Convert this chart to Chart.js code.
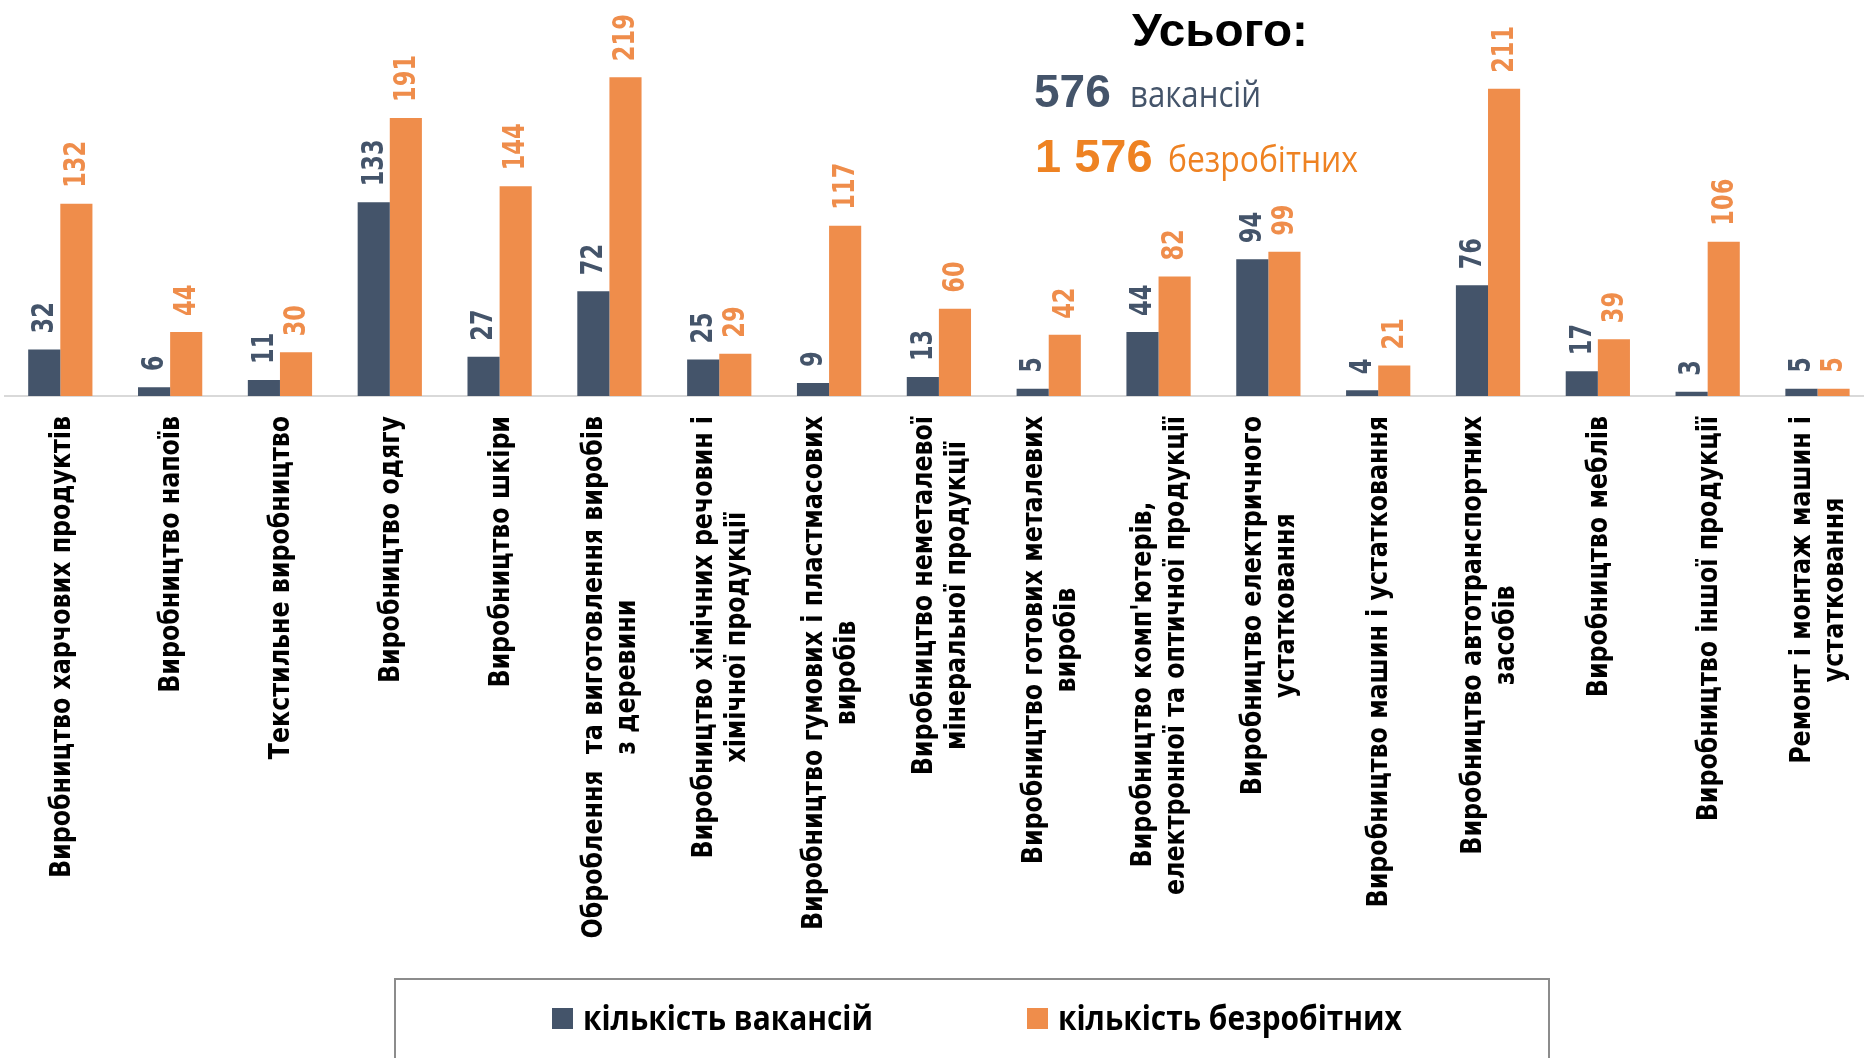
<!DOCTYPE html>
<html>
<head>
<meta charset="utf-8">
<script src="https://cdn.jsdelivr.net/npm/chart.js@4.4.1/dist/chart.umd.min.js"></script>
<style>
html,body{margin:0;padding:0;background:#fff;overflow:hidden;width:1864px;height:1058px}
#wrap{position:absolute;left:0;top:0;width:1874px;height:1058px}
</style>
</head>
<body>
<div id="wrap"><canvas id="c" width="1874" height="1058"></canvas></div>
<script>
// ---------- DATA ----------
const categories = [
  ["Виробництво харчових продуктів"],
  ["Виробництво напоїв"],
  ["Текстильне виробництво"],
  ["Виробництво одягу"],
  ["Виробництво шкіри"],
  ["Оброблення  та виготовлення виробів", "з деревини"],
  ["Виробництво хімічних речовин і", "хімічної продукції"],
  ["Виробництво гумових і пластмасових", "виробів"],
  ["Виробництво неметалевої", "мінеральної продукції"],
  ["Виробництво готових металевих", "виробів"],
  ["Виробництво комп'ютерів,       ", "електронної та оптичної продукції"],
  ["Виробництво електричного", "устатковання"],
  ["Виробництво машин і устатковання"],
  ["Виробництво автотранспортних", "засобів"],
  ["Виробництво меблів"],
  ["Виробництво іншої продукції"],
  ["Ремонт і монтаж машин і", "устатковання"]
];
const vacancies  = [32, 6, 11, 133, 27, 72, 25, 9, 13, 5, 44, 94, 4, 76, 17, 3, 5];
const unemployed = [132, 44, 30, 191, 144, 219, 29, 117, 60, 42, 82, 99, 21, 211, 39, 106, 5];
const seriesNames = ["кількість вакансій", "кількість безробітних"];
const totalTitle = "Усього:";
const totalVacancies = "576";
const totalVacanciesWord = "вакансій";
const totalUnemployed = "1 576";
const totalUnemployedWord = "безробітних";
const yMax = 272;

// ---------- STYLE ----------
const BLUE = '#44546A';
const ORANGE = '#EF8D4B';
const ORANGE_TXT = '#EE8222';

function scaledText(ctx, text, x, y, sx, align) {
  ctx.save();
  ctx.translate(x, y);
  ctx.scale(sx, 1);
  ctx.textAlign = align || 'left';
  ctx.fillText(text, 0, 0);
  ctx.restore();
}

const valueLabels = {
  id: 'valueLabels',
  afterDatasetsDraw(chart) {
    const ctx = chart.ctx;
    chart.data.datasets.forEach((ds, di) => {
      const meta = chart.getDatasetMeta(di);
      meta.data.forEach((bar, i) => {
        ctx.save();
        ctx.translate(bar.x, bar.y - 16);
        ctx.rotate(-Math.PI / 2);
        ctx.scale(0.75, 1);
        ctx.font = 'bold 30px "DejaVu Sans"';
        ctx.fillStyle = ds.backgroundColor;
        ctx.textAlign = 'left';
        ctx.textBaseline = 'middle';
        ctx.fillText(String(ds.data[i]), 0, 1);
        ctx.restore();
      });
    });
  }
};

const categoryLabels = {
  id: 'categoryLabels',
  afterDraw(chart) {
    const ctx = chart.ctx, xs = chart.scales.x;
    ctx.save();
    ctx.font = 'bold 28px "DejaVu Sans"';
    const k = 462 / ctx.measureText(categories[0][0]).width;
    const top = chart.chartArea.bottom + 20;
    const lh = 33;
    chart.data.labels.forEach((lines, i) => {
      const x = xs.getPixelForTick(i) + 2;
      const arr = Array.isArray(lines) ? lines : [lines];
      const W = Math.max(...arr.map(l => ctx.measureText(l).width)) * k;
      arr.forEach((l, j) => {
        ctx.save();
        ctx.translate(x + (j - (arr.length - 1) / 2) * lh, top + W / 2);
        ctx.rotate(-Math.PI / 2);
        ctx.scale(k, 1);
        ctx.textAlign = 'center';
        ctx.textBaseline = 'middle';
        ctx.fillStyle = '#000';
        ctx.fillText(l, 0, 0);
        ctx.restore();
      });
    });
    ctx.restore();
  }
};

const legendBox = {
  id: 'legendBox',
  afterDraw(chart) {
    const ctx = chart.ctx;
    ctx.save();
    ctx.strokeStyle = '#8C8C8C';
    ctx.lineWidth = 2;
    ctx.strokeRect(395, 979, 1154, 120);
    ctx.font = 'bold 34px "Open Sans"';
    const sx = 290 / ctx.measureText(chart.data.datasets[0].label).width;
    const xs = [552, 1027];
    chart.data.datasets.forEach((ds, i) => {
      ctx.fillStyle = ds.backgroundColor;
      ctx.fillRect(xs[i], 1008, 21, 21);
      ctx.fillStyle = '#000';
      ctx.textBaseline = 'alphabetic';
      scaledText(ctx, ds.label, xs[i] + 31, 1030, sx);
    });
    ctx.restore();
  }
};

const totals = {
  id: 'totals',
  afterDraw(chart) {
    const ctx = chart.ctx;
    ctx.save();
    ctx.textBaseline = 'alphabetic';
    ctx.fillStyle = '#000';
    ctx.font = 'bold 46px "Liberation Sans", Arial';
    let sx = 176 / ctx.measureText(totalTitle).width;
    scaledText(ctx, totalTitle, 1132, 46, sx);

    ctx.fillStyle = BLUE;
    ctx.font = 'bold 46px "Liberation Sans", Arial';
    ctx.fillText(totalVacancies, 1034, 107);
    ctx.font = '37px "Open Sans"';
    sx = 131 / ctx.measureText(totalVacanciesWord).width;
    scaledText(ctx, totalVacanciesWord, 1130, 107, sx);

    ctx.fillStyle = ORANGE_TXT;
    ctx.font = 'bold 47px "Liberation Sans", Arial';
    ctx.fillText(totalUnemployed, 1035, 172);
    ctx.font = '37px "Open Sans"';
    sx = 190 / ctx.measureText(totalUnemployedWord).width;
    scaledText(ctx, totalUnemployedWord, 1168, 172, sx);
    ctx.restore();
  }
};

new Chart(document.getElementById('c'), {
  type: 'bar',
  data: {
    labels: categories,
    datasets: [
      { label: seriesNames[0], data: vacancies, backgroundColor: BLUE },
      { label: seriesNames[1], data: unemployed, backgroundColor: ORANGE }
    ]
  },
  options: {
    responsive: false,
    animation: false,
    devicePixelRatio: 1,
    layout: { padding: { left: 5.4, right: 1.6, top: 0, bottom: 0 } },
    datasets: { bar: { categoryPercentage: 0.585, barPercentage: 1.0, borderWidth: 0 } },
    plugins: { legend: { display: false }, tooltip: { enabled: false } },
    scales: {
      x: {
        grid: { display: false, drawTicks: false },
        border: { display: true, color: '#D9D9D9', width: 2 },
        ticks: { display: false },
        afterFit: (s) => { s.height = 662; }
      },
      y: { display: false, min: 0, max: yMax }
    }
  },
  plugins: [valueLabels, categoryLabels, legendBox, totals]
});
</script>
</body>
</html>
